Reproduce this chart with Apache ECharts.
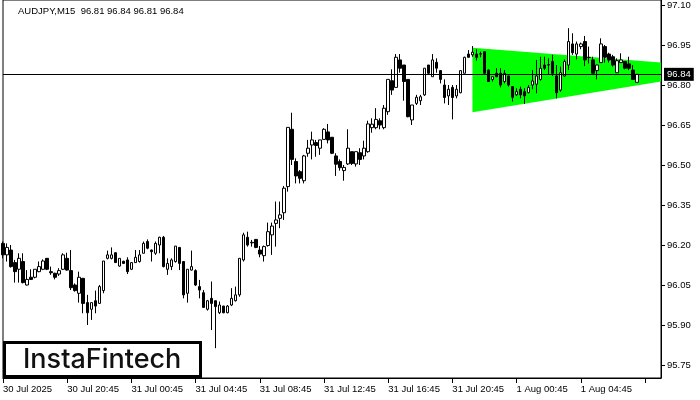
<!DOCTYPE html>
<html>
<head>
<meta charset="utf-8">
<script src="https://cdn.jsdelivr.net/npm/echarts@6/dist/echarts.min.js"></script>
<style>
html,body{margin:0;padding:0;background:#fff;}
#chart{width:700px;height:400px;}
</style>
</head>
<body>
<div id="chart"></div>
<script>
const title = 'AUDJPY,M15  96.81 96.84 96.81 96.84';
const logoText = 'InstaFintech';
const xTickLabels = ['30 Jul 2025','30 Jul 20:45','31 Jul 00:45','31 Jul 04:45','31 Jul 08:45','31 Jul 12:45','31 Jul 16:45','31 Jul 20:45','1 Aug 00:45','1 Aug 04:45'];
const barsPerTick = 16;
const slotCount = 165;
const yTicks = [95.75,95.90,96.05,96.20,96.35,96.50,96.65,96.80,96.95,97.10];
const yMin = 95.70125, yMax = 97.11875;
const lastPrice = 96.84;

const open = [
96.206,96.163,96.181,96.134,96.109,96.138,96.050,96.079,96.079,96.100,
96.109,96.150,96.100,96.094,96.091,96.109,96.150,96.104,96.050,96.019,
96.075,95.984,95.959,95.991,95.981,96.029,96.150,96.150,96.171,96.121,
96.139,96.144,96.109,96.134,96.138,96.169,96.213,96.181,96.169,96.200,
96.229,96.109,96.119,96.138,96.191,96.138,96.019,96.106,96.104,96.044,
96.021,95.959,96.000,95.991,95.946,95.971,95.946,95.975,95.991,96.013,
96.144,96.229,96.210,96.221,96.181,96.160,96.198,96.238,96.281,96.300,
96.321,96.419,96.634,96.513,96.475,96.441,96.544,96.575,96.584,96.563,
96.596,96.624,96.604,96.534,96.513,96.479,96.504,96.550,96.504,96.546,
96.534,96.550,96.640,96.640,96.666,96.640,96.700,96.816,96.791,96.894,
96.875,96.821,96.669,96.731,96.741,96.763,96.875,96.831,96.885,96.854,
96.800,96.759,96.791,96.759,96.771,96.844,96.916,96.913,96.916,96.917,
96.925,96.856,96.821,96.844,96.844,96.813,96.834,96.794,96.763,96.784,
96.775,96.771,96.800,96.803,96.821,96.875,96.876,96.888,96.834,96.781,
96.834,96.875,96.954,96.916,96.944,96.963,96.904,96.894,96.854,96.884,
96.944,96.916,96.906,96.846,96.884,96.888,96.879,96.856,96.81
];
const close = [
96.163,96.191,96.119,96.100,96.150,96.059,96.071,96.071,96.109,96.119,
96.140,96.109,96.096,96.079,96.104,96.163,96.106,96.040,96.029,96.079,
95.981,95.946,95.984,95.971,96.044,96.140,96.163,96.163,96.134,96.150,
96.131,96.100,96.134,96.154,96.163,96.206,96.188,96.175,96.206,96.229,
96.119,96.131,96.144,96.196,96.131,96.013,96.109,96.119,96.050,96.031,
95.966,95.991,95.981,95.969,95.975,95.946,95.971,96.000,96.013,96.150,
96.238,96.200,96.208,96.191,96.166,96.194,96.250,96.271,96.294,96.313,
96.413,96.641,96.521,96.459,96.450,96.534,96.563,96.594,96.573,96.594,
96.634,96.594,96.544,96.503,96.490,96.491,96.563,96.506,96.550,96.521,
96.563,96.654,96.653,96.671,96.650,96.713,96.821,96.781,96.904,96.863,
96.813,96.681,96.725,96.754,96.756,96.863,96.844,96.894,96.863,96.821,
96.753,96.784,96.753,96.784,96.854,96.904,96.904,96.923,96.904,96.916,
96.844,96.813,96.831,96.831,96.800,96.844,96.800,96.754,96.775,96.763,
96.759,96.791,96.815,96.834,96.863,96.863,96.875,96.844,96.771,96.846,
96.888,96.963,96.921,96.954,96.954,96.894,96.903,96.844,96.875,96.954,
96.904,96.894,96.875,96.891,96.894,96.863,96.863,96.821,96.84
];
const low = [
96.150,96.138,96.115,96.059,96.059,96.056,96.048,96.069,96.075,96.098,
96.106,96.106,96.088,96.071,96.084,96.106,96.104,96.031,96.025,95.984,
95.944,95.900,95.919,95.944,95.981,96.019,96.146,96.146,96.133,96.119,
96.129,96.091,96.106,96.133,96.134,96.169,96.184,96.138,96.163,96.169,
96.116,96.088,96.106,96.134,96.106,96.000,95.984,96.104,96.046,96.000,
95.965,95.954,95.881,95.813,95.941,95.944,95.944,95.971,95.988,96.006,
96.138,96.194,96.194,96.188,96.154,96.138,96.194,96.163,96.194,96.263,
96.294,96.400,96.500,96.431,96.431,96.431,96.531,96.521,96.531,96.538,
96.594,96.581,96.541,96.459,96.479,96.441,96.500,96.500,96.494,96.500,
96.521,96.546,96.621,96.634,96.634,96.634,96.688,96.763,96.791,96.846,
96.741,96.679,96.650,96.725,96.725,96.759,96.841,96.831,96.846,96.806,
96.731,96.725,96.671,96.750,96.769,96.844,96.903,96.906,96.891,96.904,
96.838,96.813,96.813,96.831,96.791,96.806,96.794,96.738,96.759,96.750,
96.729,96.769,96.784,96.769,96.816,96.856,96.838,96.834,96.750,96.775,
96.831,96.856,96.913,96.896,96.934,96.871,96.881,96.844,96.821,96.884,
96.884,96.884,96.869,96.846,96.884,96.859,96.856,96.819,96.81
];
const high = [
96.213,96.206,96.200,96.144,96.169,96.169,96.106,96.109,96.109,96.138,
96.146,96.150,96.119,96.096,96.113,96.169,96.171,96.181,96.056,96.100,
96.075,96.013,95.984,96.029,96.050,96.140,96.179,96.191,96.172,96.150,
96.141,96.154,96.136,96.181,96.181,96.213,96.221,96.183,96.213,96.231,
96.234,96.150,96.150,96.196,96.192,96.140,96.109,96.179,96.109,96.069,
96.031,95.994,96.063,95.991,95.988,95.972,95.975,96.038,96.044,96.150,
96.246,96.250,96.219,96.222,96.196,96.198,96.284,96.284,96.363,96.363,
96.421,96.641,96.696,96.525,96.481,96.538,96.594,96.625,96.594,96.594,
96.638,96.654,96.604,96.544,96.521,96.500,96.634,96.550,96.550,96.563,
96.591,96.666,96.675,96.713,96.675,96.725,96.821,96.859,96.916,96.916,
96.875,96.821,96.725,96.763,96.763,96.863,96.875,96.916,96.900,96.856,
96.821,96.800,96.800,96.800,96.854,96.906,96.931,96.946,96.934,96.925,
96.925,96.859,96.831,96.863,96.863,96.856,96.834,96.794,96.788,96.794,
96.788,96.800,96.856,96.894,96.906,96.906,96.900,96.913,96.875,96.869,
96.896,97.013,96.994,96.963,96.959,96.984,96.944,96.906,96.875,96.975,
96.950,96.921,96.913,96.900,96.919,96.888,96.906,96.875,96.84
];

// Symmetrical triangle pattern (start / end bar index, upper and lower bound)
const triX = [117, 164];
const triTop = [96.940, 96.884];
const triBottom = [96.698, 96.813];

const categories = [];
for (let i = 0; i < slotCount; i++) categories.push(String(i));
const candleData = open.map((o, i) => [o, close[i], low[i], high[i]]);

const axisFont = {fontFamily: 'Liberation Sans', fontSize: 9.5, color: '#000'};

const chart = echarts.init(document.getElementById('chart'), null, {renderer: 'canvas'});
chart.setOption({
  animation: false,
  backgroundColor: '#fff',
  grid: {left: 3, right: 39, top: 0, bottom: 22, show: true, borderColor: '#000', borderWidth: 1, backgroundColor: '#fff'},
  xAxis: {
    type: 'category',
    data: categories,
    boundaryGap: false,
    axisLine: {show: true, lineStyle: {color: '#000', width: 1}},
    axisTick: {show: true, interval: (i) => i % barsPerTick === 0, length: 5, lineStyle: {color: '#000'}},
    axisLabel: Object.assign({
      show: true,
      interval: (i) => i % barsPerTick === 0,
      align: 'left',
      margin: 6,
      formatter: (v, i) => xTickLabels[i / barsPerTick] || ''
    }, axisFont),
    splitLine: {show: false}
  },
  yAxis: {
    type: 'value',
    position: 'right',
    min: yMin,
    max: yMax,
    scale: true,
    axisLine: {show: true, lineStyle: {color: '#000', width: 1}},
    axisTick: {show: true, customValues: yTicks, length: 4, lineStyle: {color: '#000'}},
    axisLabel: Object.assign({
      show: true,
      customValues: yTicks,
      margin: 6,
      formatter: (v) => v.toFixed(2)
    }, axisFont),
    splitLine: {show: false}
  },
  series: [
    {
      type: 'custom',
      z: 1,
      silent: true,
      data: [[0]],
      clip: true,
      renderItem: function (params, api) {
        const p1 = api.coord([triX[0], triTop[0]]);
        const p2 = api.coord([triX[1], triTop[1]]);
        const p3 = api.coord([triX[1], triBottom[1]]);
        const p4 = api.coord([triX[0], triBottom[0]]);
        return {
          type: 'polygon',
          shape: {points: [p1, p2, p3, p4]},
          style: {fill: '#00ff00', stroke: null}
        };
      }
    },
    {
      type: 'candlestick',
      z: 3,
      data: candleData,
      barWidth: 3,
      itemStyle: {
        color: '#ffffff',
        color0: '#000000',
        borderColor: '#000000',
        borderColor0: '#000000',
        borderWidth: 1
      },
      markLine: {
        silent: true,
        symbol: 'none',
        animation: false,
        lineStyle: {color: '#000', width: 1, type: 'solid'},
        label: {
          show: true,
          position: 'end',
          distance: 3,
          formatter: lastPrice.toFixed(2),
          color: '#fff',
          backgroundColor: '#000',
          padding: [2, 3, 1, 3],
          fontFamily: 'Liberation Sans',
          fontSize: 9.5
        },
        data: [{yAxis: lastPrice}]
      }
    }
  ],
  graphic: [
    {
      type: 'text',
      left: 18,
      top: 6,
      z: 100,
      style: {text: title, font: '9.5px "Liberation Sans"', fill: '#000'}
    },
    {
      type: 'rect',
      z: 100,
      shape: {x: 4.5, y: 342.5, width: 196, height: 34},
      style: {fill: '#fff', stroke: '#000', lineWidth: 3}
    },
    {
      type: 'text',
      z: 101,
      x: 23,
      y: 360,
      style: {text: logoText, font: '500 27px Inter', fill: '#111', textVerticalAlign: 'middle', verticalAlign: 'middle'}
    }
  ]
});
</script>
</body>
</html>
